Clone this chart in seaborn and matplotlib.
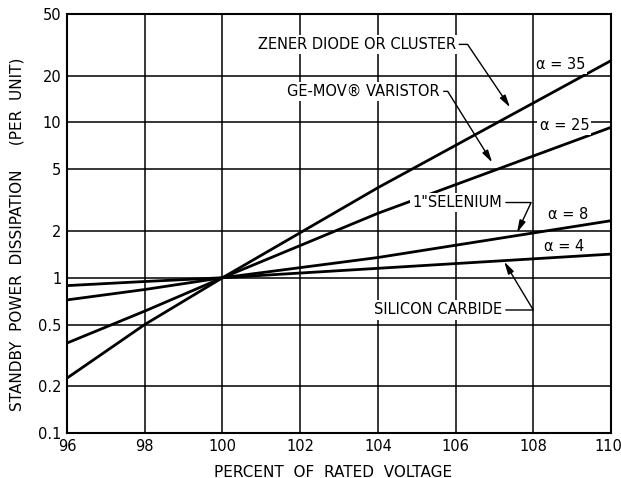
import matplotlib
matplotlib.use("Agg")
import matplotlib.pyplot as plt
import matplotlib.transforms as mtransforms
import pandas as pd
import seaborn as sns
from matplotlib.ticker import FixedLocator, FixedFormatter, NullLocator

voltage = [96, 98, 100, 104, 110]

# standby power dissipation (per unit) for each device
zener = [0.226, 0.50, 1.0, 3.8, 25.0]      # alpha = 35
gemov = [0.38, 0.61, 1.0, 2.6, 9.3]        # alpha = 25
selenium = [0.72, 0.84, 1.0, 1.35, 2.33]   # alpha = 8
silicon = [0.89, 0.946, 1.0, 1.15, 1.42]   # alpha = 4

y_ticks = [0.1, 0.2, 0.5, 1, 2, 5, 10, 20, 50]
y_tick_labels = ["0.1", "0.2", "0.5", "1", "2", "5", "10", "20", "50"]
x_ticks = [96, 98, 100, 102, 104, 106, 108, 110]

df = pd.DataFrame({
    "voltage": voltage * 4,
    "power": zener + gemov + selenium + silicon,
    "device": (["zener"] * 5 + ["gemov"] * 5 + ["selenium"] * 5 + ["silicon"] * 5),
})

sns.set_theme(style="white")
plt.rcParams["font.family"] = ["DejaVu Sans"]

fig = plt.figure(figsize=(6.21, 4.78), dpi=100)
ax = fig.add_axes([0.108, 0.094, 0.876, 0.877])

sns.lineplot(data=df, x="voltage", y="power", units="device", estimator=None,
             color="black", linewidth=2.0, ax=ax, zorder=3)

ax.set_yscale("log")
ax.set_xlim(96, 110)
ax.set_ylim(0.1, 50)
ax.yaxis.set_major_locator(FixedLocator(y_ticks))
ax.yaxis.set_major_formatter(FixedFormatter(y_tick_labels))
ax.yaxis.set_minor_locator(NullLocator())
ax.set_xticks(x_ticks)
ax.set_xticklabels([str(v) for v in x_ticks])
ax.grid(True, which="major", color="black", linewidth=1.1)
ax.tick_params(axis="both", length=0, labelsize=10.5, colors="black", pad=4)
for sp in ax.spines.values():
    sp.set_color("black")
    sp.set_linewidth(1.5)

# keep the last x label inside the figure
last = ax.get_xticklabels()[-1]
last.set_transform(last.get_transform() +
                   mtransforms.ScaledTranslation(-3 / 100, 0, fig.dpi_scale_trans))

ax.set_xlabel("PERCENT  OF  RATED  VOLTAGE", fontsize=11, color="black")
ax.set_ylabel("STANDBY  POWER  DISSIPATION     (PER  UNIT)", fontsize=11, color="black")
ax.xaxis.set_label_coords(0.489, -0.075)
ax.yaxis.set_label_coords(-0.078, 0.474)

txt = dict(fontsize=10.5, color="black", zorder=5)
box = dict(boxstyle="square,pad=0.15", fc="white", ec="none")
arrow = dict(arrowstyle="-|>,head_width=0.18,head_length=0.7", color="black",
             lw=1.0, shrinkA=1, shrinkB=0)

# alpha labels
ax.text(108.7, 23.7, "α = 35", ha="center", va="center", bbox=box, **txt)
ax.text(108.8, 9.6, "α = 25", ha="center", va="center", bbox=box, **txt)
ax.text(108.9, 2.55, "α = 8", ha="center", va="center", **txt)
ax.text(108.8, 1.58, "α = 4", ha="center", va="center", **txt)

# device labels with leaders
ax.annotate("ZENER DIODE OR CLUSTER", xy=(107.4, 12.5), xytext=(106.0, 31.8),
            ha="right", va="center", bbox=box,
            arrowprops=dict(connectionstyle="angle,angleA=0,angleB=-56,rad=0",
                            relpos=(1, 0.5), **arrow), **txt)
ax.annotate("GE-MOV® VARISTOR", xy=(106.94, 5.52), xytext=(105.6, 15.85),
            ha="right", va="center", bbox=box,
            arrowprops=dict(connectionstyle="angle,angleA=0,angleB=-58,rad=0",
                            relpos=(1, 0.5), **arrow), **txt)
ax.annotate('1"SELENIUM', xy=(107.58, 1.95), xytext=(107.2, 3.05),
            ha="right", va="center", bbox=box,
            arrowprops=dict(connectionstyle="angle,angleA=0,angleB=65,rad=0",
                            relpos=(1, 0.5), **arrow), **txt)
ax.annotate("SILICON CARBIDE", xy=(107.25, 1.27), xytext=(107.2, 0.62),
            ha="right", va="center", bbox=box,
            arrowprops=dict(connectionstyle="angle,angleA=0,angleB=121,rad=0",
                            relpos=(1, 0.5), **arrow), **txt)

fig.savefig("out.png", dpi=100)
